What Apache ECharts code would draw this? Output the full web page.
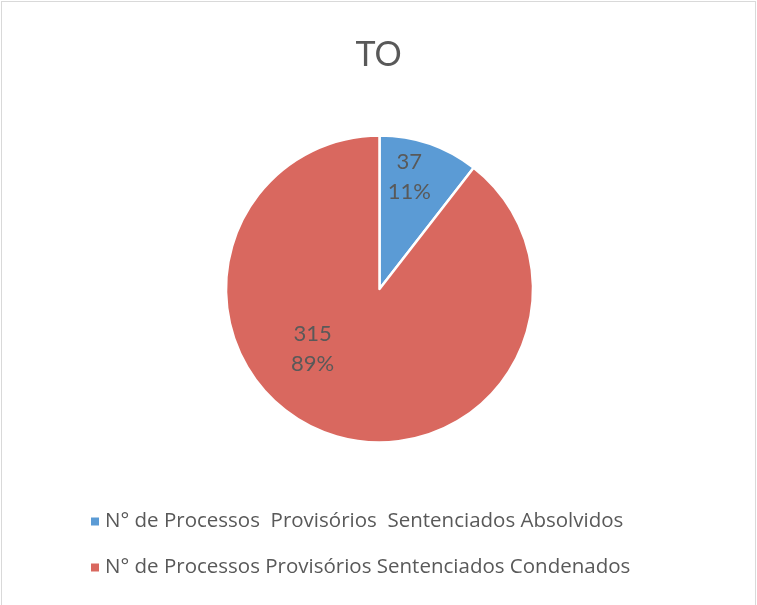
<!DOCTYPE html>
<html><head><meta charset="utf-8">
<script src="https://cdn.jsdelivr.net/npm/echarts@6/dist/echarts.min.js"></script>
<style>
html,body{margin:0;padding:0;background:#fff;}
#frame{position:absolute;left:1px;top:1px;width:755px;height:620px;border:1px solid #d9d9d9;box-sizing:border-box;}
#c{position:absolute;left:0;top:0;width:757px;height:605px;}
</style></head>
<body><div id="frame"></div><div id="c"></div>
<script>
const titleText = 'TO';
const categories = ['N° de Processos  Provisórios  Sentenciados Absolvidos', 'N° de Processos Provisórios Sentenciados Condenados'];
const values = [37, 315];
const percents = ['11%', '89%'];
const colors = ['#5B9BD5', '#D9685F'];
const labelOffsets = [[4, -37], [-41, -16]];

const chart = echarts.init(document.getElementById('c'));
const font = 'Lato, "Open Sans", sans-serif';
chart.setOption({
  animation: false,
  title: { text: titleText, left: 'center', top: 33,
    textStyle: { fontFamily: font, fontSize: 34, fontWeight: 'normal', color: '#595959' } },
  legend: {
    orient: 'vertical', left: 89, top: 511, padding: 0,
    itemWidth: 10, itemHeight: 10, itemGap: 25, icon: 'rect',
    textStyle: { fontFamily: '"Open Sans", sans-serif', fontSize: 20.5, color: '#595959', lineHeight: 20 },
    data: categories
  },
  series: [{
    type: 'pie', center: [379.5, 289], radius: 153.5, startAngle: 90, clockwise: true,
    itemStyle: { borderColor: '#fff', borderWidth: 2.5 },
    label: { position: 'inside', fontFamily: font, fontSize: 22, lineHeight: 30, color: '#595959',
      formatter: p => p.value + '\n' + percents[p.dataIndex] },
    labelLine: { show: false },
    emphasis: { disabled: true },
    data: categories.map((n, i) => ({ name: n, value: values[i], itemStyle: { color: colors[i] },
      label: { offset: labelOffsets[i] } }))
  }]
});
</script></body></html>
